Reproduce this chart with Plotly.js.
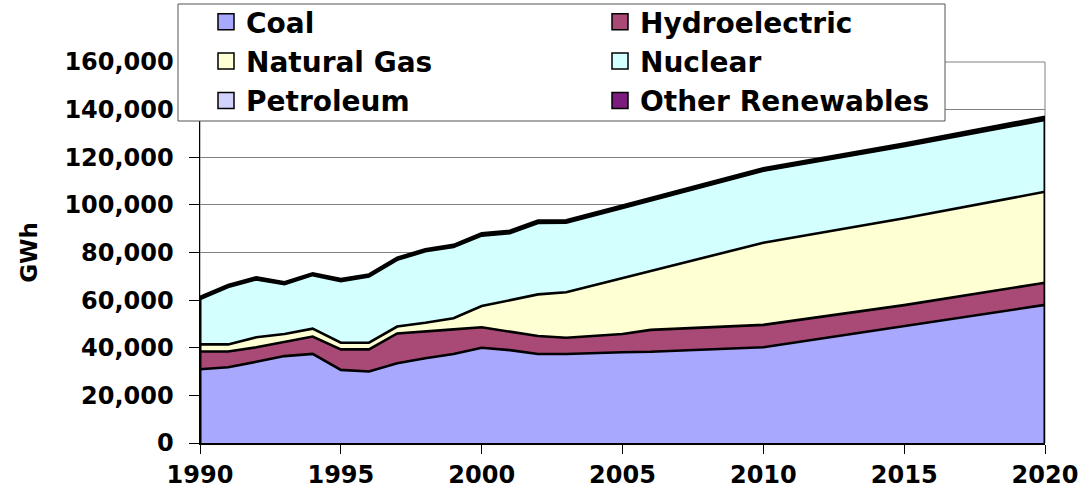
<!DOCTYPE html>
<html><head><meta charset="utf-8">
<script src="https://cdn.plot.ly/plotly-3.0.1.min.js"></script>
<style>html,body{margin:0;padding:0;background:#fff}#chart{width:1086px;height:501px}</style>
</head><body><div id="chart"></div>
<script>
// Data (GWh)
const years = [1990,1991,1992,1993,1994,1995,1996,1997,1998,1999,2000,2001,2002,2003,2005,2006,2010,2015,2020];
const coal = [31000,31800,34100,36500,37400,30700,30000,33500,35600,37400,40000,39000,37400,37400,38100,38300,40200,49200,58000];
const hydroelectric = [7400,6600,6100,6100,7300,8600,9300,12500,11400,10300,8600,7600,7500,6800,7700,9200,9400,8700,9300];
const naturalGas = [3000,3000,4200,3200,3300,2800,2800,2900,3500,4700,8900,13400,17500,19100,23500,24700,34500,36500,38200];
const nuclear = [19000,24100,24300,20900,22500,25900,27800,28000,30000,29900,29600,28100,30000,29200,29400,29600,30200,30200,30200];
const petroleum = [600,500,500,400,400,400,400,400,400,400,500,500,400,400,300,300,300,300,300];
const otherRenewables = [400,400,400,400,400,500,500,500,500,500,500,500,600,600,700,700,800,900,1000];

const seriesNames = ['Coal','Hydroelectric','Natural Gas','Nuclear','Petroleum','Other Renewables'];
const seriesValues = [coal, hydroelectric, naturalGas, nuclear, petroleum, otherRenewables];
const seriesColors = ['#A8A8FF','#A94A76','#FFFFD4','#D4FFFF','#D2D2FF','#7C1C7E'];
const xTicks = [1990,1995,2000,2005,2010,2015,2020];
const yTicks = [0,20000,40000,60000,80000,100000,120000,140000,160000];

const FONT = 'DejaVu Sans, Verdana, sans-serif';
const traces = [];
seriesNames.forEach((n,i)=>{
  traces.push({
    x: years, y: seriesValues[i], name: n, type:'scatter', mode:'lines',
    stackgroup:'one', fillcolor: seriesColors[i],
    line:{color:'#000', width:2.6}, showlegend:false, hoverinfo:'x+y+name'
  });
});
// edge borders of the stacked area (from data totals)
const totals = years.map((_,k)=>seriesValues.reduce((s,a)=>s+a[k],0));
const last = years.length-1;
traces.push({x:[years[0],years[0]], y:[0,totals[0]], mode:'lines', line:{color:'#000',width:3}, showlegend:false, hoverinfo:'skip'});
traces.push({x:[years[last],years[last]], y:[0,totals[last]], mode:'lines', line:{color:'#000',width:3}, showlegend:false, hoverinfo:'skip'});
// legend entries (square swatches)
seriesNames.forEach((n,i)=>{
  traces.push({x:[null], y:[null], name:n, type:'scatter', mode:'markers',
    marker:{symbol:'square', size:16, color:seriesColors[i], line:{color:'#000', width:1.5}},
    showlegend:true, hoverinfo:'skip'});
});

const pl = 200, pr = 1045, pt = 62, pb = 443;
const pw = pr-pl, ph = pb-pt;
const px = v => (v-pl)/pw;
const py = v => (pb-v)/ph;

const layout = {
  width:1086, height:501,
  margin:{l:pl, r:1086-pr, t:pt, b:501-pb, pad:0, autoexpand:false},
  paper_bgcolor:'#fff', plot_bgcolor:'#fff',
  showlegend:true,
  font:{family:FONT, color:'#000'},
  xaxis:{
    range:[1990,2020], tickvals:xTicks, ticktext:xTicks.map(String),
    ticks:'outside', ticklen:9, tickwidth:1, tickcolor:'#000',
    showline:true, linecolor:'#000', linewidth:2, showgrid:false, zeroline:false,
    tickfont:{family:FONT, size:24, weight:'bold', color:'#000'}, fixedrange:true, automargin:false
  },
  yaxis:{
    range:[0,160000], tickvals:yTicks, tickformat:',d',
    ticks:'outside', ticklen:10, tickwidth:1, tickcolor:'#000',
    showline:true, linecolor:'#000', linewidth:1.5,
    showgrid:true, gridcolor:'#808080', gridwidth:1, zeroline:false,
    ticklabelstandoff:10,
    tickfont:{family:FONT, size:24, weight:'bold', color:'#000'},
    title:{text:'GWh', font:{family:FONT, size:23, weight:'bold', color:'#000'}, standoff:20},
    fixedrange:true, automargin:false
  },
  legend:{
    orientation:'h', x:px(206), xanchor:'left', y:py(-3), yanchor:'top',
    entrywidth:349, entrywidthmode:'pixels',
    bgcolor:'rgba(0,0,0,0)', borderwidth:0,
    font:{family:FONT, size:28, weight:'bold', color:'#000'},
    traceorder:'normal'
  },
  shapes:[
    {type:'rect', xref:'paper', yref:'paper', x0:0, x1:1, y0:0, y1:1, line:{color:'#808080', width:1}, fillcolor:'rgba(0,0,0,0)', layer:'below'},
    {type:'rect', xref:'paper', yref:'paper', x0:px(178), x1:px(945), y0:py(121), y1:py(4), line:{color:'#555', width:1}, fillcolor:'#fff', layer:'above'}
  ]
};
Plotly.newPlot('chart', traces, layout, {displayModeBar:false, staticPlot:true});
</script></body></html>
